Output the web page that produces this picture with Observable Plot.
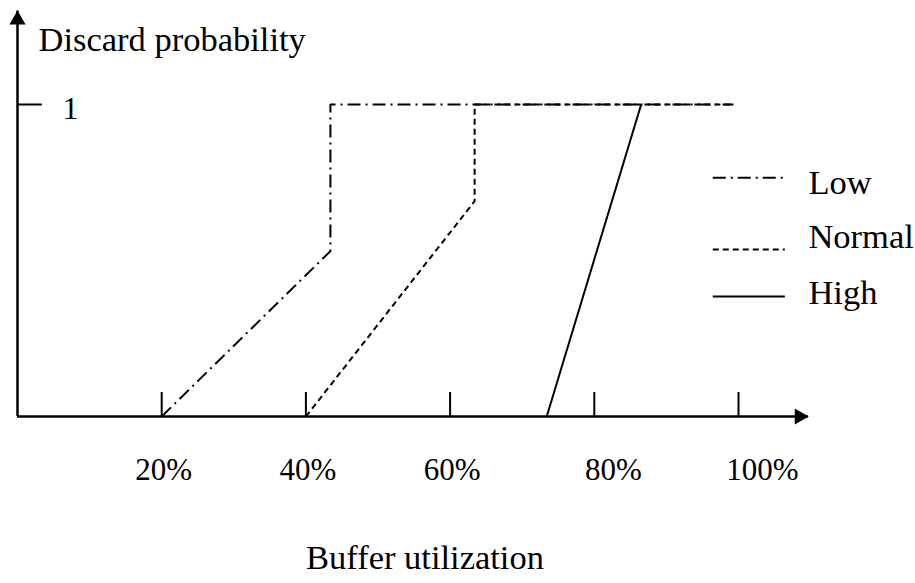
<!DOCTYPE html>
<html>
<head>
<meta charset="utf-8">
<script src="https://cdn.jsdelivr.net/npm/d3@7"></script>
<script src="https://cdn.jsdelivr.net/npm/@observablehq/plot@0.6"></script>
<style>
  html, body { margin: 0; padding: 0; background: #fff; }
  #chart svg { display: block; }
</style>
</head>
<body>
<div id="chart"></div>
<script>
// ---- data ----
const series = ["Low", "Normal", "High"];
const lowX = [20, 43.4, 43.4, 99.3];
const lowY = [0, 0.53, 1, 1];
const normalX = [40, 63.4, 63.4, 99.3];
const normalY = [0, 0.69, 1, 1];
const highX = [73.4, 86.5];
const highY = [0, 1];
const xTicks = [20, 40, 60, 80, 100];
const xTickLabels = ["20%", "40%", "60%", "80%", "100%"];
const yTicks = [1];
const xTitle = "Buffer utilization";
const yTitle = "Discard probability";

// ---- build tables ----
const toRows = (xs, ys, name) => xs.map((x, i) => ({x, y: ys[i], series: name}));
const lines = {
  Low: toRows(lowX, lowY, "Low"),
  Normal: toRows(normalX, normalY, "Normal"),
  High: toRows(highX, highY, "High")
};
const dashes = {Low: "13,5,2,5", Normal: "6,4", High: null};

// ---- layout ----
const font = "'Liberation Serif', 'Times New Roman', serif";
const fsNum = 31;
const fsWord = 34.5;
const xAxisEnd = 109.7;
const yAxisEnd = 1.30;
const labelShift = [2, 2, 2, 19, 24]; // label offsets as drawn in the original
const legendX1 = 96.5, legendX2 = 106.5, legendTextX = 109.7;
const legendLineY = {Low: 0.765, Normal: 0.535, High: 0.385};
const legendTextY = {Low: 0.748, Normal: 0.574, High: 0.395};

const marks = [];
// axes
marks.push(Plot.ruleY([0], {x1: 0, x2: xAxisEnd, stroke: "black", strokeWidth: 2.5}));
marks.push(Plot.ruleX([0], {y1: 0, y2: yAxisEnd, stroke: "black", strokeWidth: 2.5}));
marks.push(Plot.dot([0], {x: xAxisEnd, y: 0, dx: -9, symbol: "triangle", rotate: 90, r: 6, fill: "black", stroke: "none"}));
marks.push(Plot.dot([0], {x: 0, y: yAxisEnd, dy: 9, symbol: "triangle", rotate: 0, r: 6, fill: "black", stroke: "none"}));
// ticks
marks.push(Plot.ruleX(xTicks, {x: d => d, y1: 0, y2: 0.077, stroke: "black", strokeWidth: 2}));
xTicks.forEach((t, i) => {
  marks.push(Plot.text([xTickLabels[i]], {x: t, y: 0, dx: labelShift[i], dy: 54, text: d => d, fontSize: fsNum, fontFamily: font, fill: "black"}));
});
marks.push(Plot.ruleY(yTicks, {y: d => d, x1: 0, x2: 3.45, stroke: "black", strokeWidth: 2}));
marks.push(Plot.text(yTicks, {y: d => d, x: 0, dx: 53, dy: 4, text: d => String(d), fontSize: fsNum + 1, fontFamily: font, fill: "black"}));
// titles
marks.push(Plot.text([yTitle], {x: 0, y: yAxisEnd, dx: 21, dy: 29, text: d => d, textAnchor: "start", fontSize: fsWord, fontFamily: font, fill: "black"}));
marks.push(Plot.text([xTitle], {frameAnchor: "bottom", dx: -33, dy: -15, text: d => d, fontSize: fsWord, fontFamily: font, fill: "black"}));
// series
for (const s of series) {
  marks.push(Plot.line(lines[s], {x: "x", y: "y", stroke: "black", strokeWidth: 2, strokeDasharray: dashes[s], strokeLinecap: "butt", strokeLinejoin: "miter"}));
}
// legend
for (const s of series) {
  marks.push(Plot.ruleY([legendLineY[s]], {y: d => d, x1: legendX1, x2: legendX2, stroke: "black", strokeWidth: 2, strokeDasharray: dashes[s]}));
  marks.push(Plot.text([s], {x: legendTextX, y: legendTextY[s], text: d => d, textAnchor: "start", fontSize: fsWord, fontFamily: font, fill: "black"}));
}

const chart = Plot.plot({
  width: 915,
  height: 583,
  margin: 0,
  x: {domain: [0, 100], range: [17, 738], axis: null},
  y: {domain: [0, 1], range: [416, 104], axis: null},
  style: {background: "white", overflow: "visible"},
  marks
});
document.getElementById("chart").append(chart);
</script>
</body>
</html>
